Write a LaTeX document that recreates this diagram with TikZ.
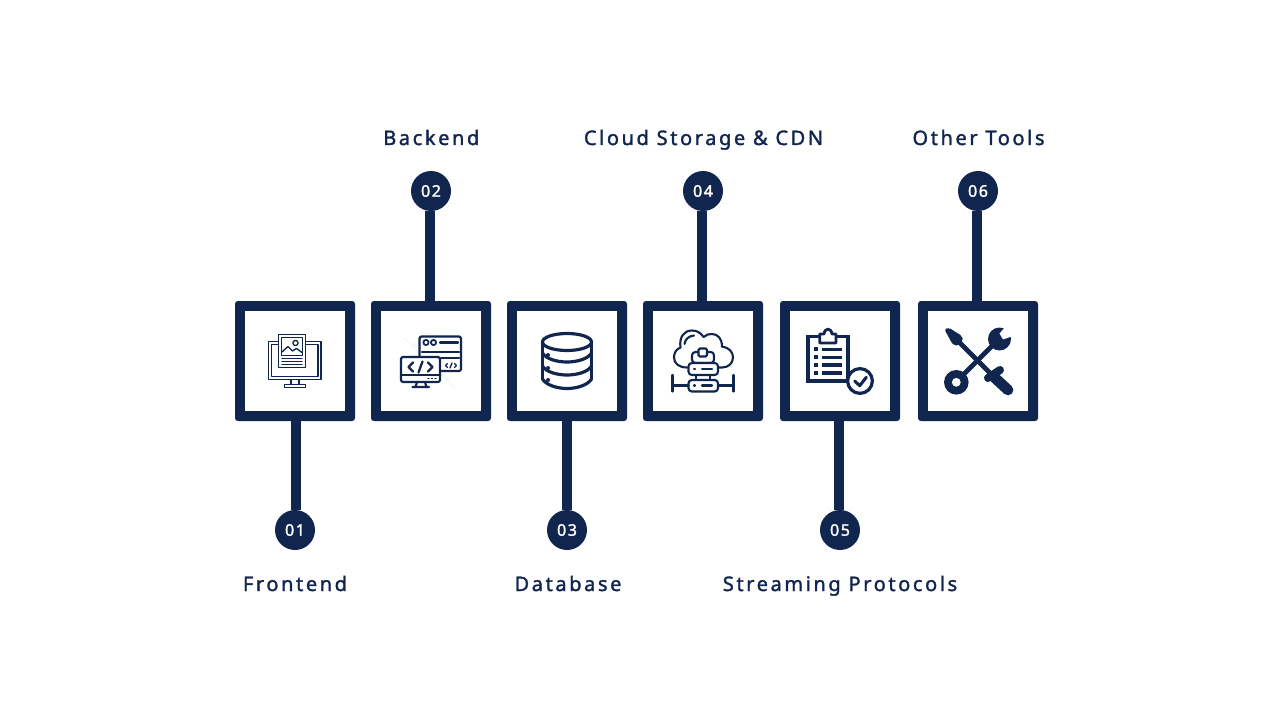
\documentclass[tikz,border=0pt]{standalone}
\usepackage{fontspec}
\usetikzlibrary{calc}
\newfontfamily\lab[LetterSpace=13,FakeBold=1.6]{Noto Sans}
\newfontfamily\num[LetterSpace=10,FakeBold=1.8]{Noto Sans}
\definecolor{navy}{HTML}{11264F}
\tikzset{
  x=.75pt,y=-.75pt,
  boxo/.style={fill=navy,draw=none,minimum size=90pt,inner sep=0pt,outer sep=0pt,rounded corners=2.2pt},
  boxi/.style={fill=white,draw=none,minimum size=75pt,inner sep=0pt,outer sep=0pt},
  bub/.style={circle,fill=navy,draw=none,minimum size=30pt,inner sep=0pt,outer sep=0pt,text=white,font=\num\fontsize{12}{14}\selectfont},
  lbl/.style={text=navy,inner sep=0pt,anchor=base,font=\lab\fontsize{15}{18}\selectfont},
  stem/.style={draw=navy,line width=7.5pt},
  ic/.style={draw=navy,line width=1pt,line cap=round,line join=round},
  icb/.style={draw=navy,line width=1.6pt,line cap=round,line join=round},
  ick/.style={draw=navy,line width=2.4pt,line cap=round,line join=round},
}
\begin{document}
\begin{tikzpicture}
\fill[white] (0,0) rectangle (1280,720);
\useasboundingbox (0,0) rectangle (1280,720);
\node[boxo] (b1) at (295,361) {};
\node[boxo] (b2) at (431,361) {};
\node[boxo] (b3) at (567,361) {};
\node[boxo] (b4) at (703,361) {};
\node[boxo] (b5) at (840,361) {};
\node[boxo] (b6) at (978,361) {};
\node[boxi] (i1) at (b1) {};
\node[boxi] (i2) at (b2) {};
\node[boxi] (i3) at (b3) {};
\node[boxi] (i4) at (b4) {};
\node[boxi] (i5) at (b5) {};
\node[boxi] (i6) at (b6) {};
\node[bub] (c1) at (295,530) {\raisebox{-.6pt}{01}};
\node[bub] (c2) at (431,191) {\raisebox{-.6pt}{02}};
\node[bub] (c3) at (567,530) {\raisebox{-.6pt}{03}};
\node[bub] (c4) at (703,191) {\raisebox{-.6pt}{04}};
\node[bub] (c5) at (840,530) {\raisebox{-.6pt}{05}};
\node[bub] (c6) at (978,191) {\raisebox{-.6pt}{06}};
\draw[stem] ([xshift=.75pt]b1.south) -- ([xshift=.75pt]c1.north);
\draw[stem] ([xshift=-.75pt]b2.north) -- ([xshift=-.75pt]c2.south);
\draw[stem] (b3.south) -- (c3.north);
\draw[stem] ([xshift=-.75pt]b4.north) -- ([xshift=-.75pt]c4.south);
\draw[stem] ([xshift=-.75pt]b5.south) -- ([xshift=-.75pt]c5.north);
\draw[stem] ([xshift=-.75pt]b6.north) -- ([xshift=-.75pt]c6.south);
\node[lbl] (l1) at (295,591) {Frontend};
\node[lbl] (l2) at (431.3,145) {Backend};
\node[lbl] (l3) at (568,591) {Database};
\node[lbl] (l4) at (703.5,145) {Cloud Storage \& CDN};
\node[lbl] (l5) at (840,591) {Streaming Protocols};
\node[lbl] (l6) at (978.5,145) {Other Tools};
% ---- icon 1
\draw[ic] (268.5,341.5) rectangle (321,379.5);
\draw[ic] (271.5,344.5) rectangle (318,376.5);
\draw[ic] (291,380) -- (291,384) (299,380) -- (299,384);
\draw[ic] (284.5,384.5) rectangle (305.5,387.5);
\draw[ic,fill=white] (278.5,334.5) rectangle (305.5,367.5);
\draw[ic] (281.5,337.5) rectangle (302.5,355.5);
\draw[ic] (295.5,343) circle (2.6);
\draw[ic] (282,352) -- (288,346.5) -- (292.5,351) -- (296.5,348.5) -- (302,352.5);
\draw[ic] (282,358.5) -- (302,358.5) (282,361.5) -- (302,361.5) (282,364.5) -- (302,364.5);
% ---- icon 2
\begin{scope}[draw=navy!7,line width=.4pt]
\draw (404,338) -- (455,388) (462,340) -- (420,332);
\draw (414,345) circle (1.6) (448,379) circle (1.6);
\end{scope}
\draw[icb,fill=white,rounded corners=1.5pt] (419.5,336.5) rectangle (461,371);
\draw[ic,line width=1.3pt] (426,342.5) circle (2.6) (433.5,342.5) circle (2.6);
\draw[icb] (440,342.5) -- (458,342.5) (422,352) -- (459,352) (441,358) -- (459,358);
\draw[ic] (447.5,363.5) -- (445.5,365.5) -- (447.5,367.5) (454.5,363.5) -- (456.5,365.5) -- (454.5,367.5) (452,363) -- (450,368);
\draw[icb,fill=white,rounded corners=1.5pt] (401,357) rectangle (440,382);
\draw[icb] (401,375) -- (440,375);
\draw[ic] (428,378.5) -- (429,378.5) (431.5,378.5) -- (432.5,378.5) (435,378.5) -- (436,378.5);
\draw[icb,line width=1.7pt] (413,362.5) -- (408.5,367) -- (413,371.5) (428,362.5) -- (432.5,367) -- (428,371.5) (422.5,361.5) -- (418.5,372.5);
\draw[icb] (417,382) -- (415.5,387) (425,382) -- (426.5,387) (412.5,387) -- (429,387);
% ---- icon 3
\draw[ick] (567,342) circle [x radius=24.5,y radius=8.5];
\draw[ick] (542.5,342) -- (542.5,379) (591.5,342) -- (591.5,379);
\draw[ick] (542.5,353) .. controls (546,359) and (557,362) .. (567,362) .. controls (577,362) and (588,359) .. (591.5,353);
\draw[ick] (542.5,366) .. controls (546,372) and (557,375) .. (567,375) .. controls (577,375) and (588,372) .. (591.5,366);
\draw[ick] (542.5,379) .. controls (546,385) and (557,388.5) .. (567,388.5) .. controls (577,388.5) and (588,385) .. (591.5,379);
\fill[navy] (548,355) circle (2) (548,368) circle (2) (548,380) circle (2);
% ---- icon 4
\draw[icb] (687,367.5) .. controls (679,367.5) and (674,363.5) .. (674,357.5)
 .. controls (674,352.5) and (676.5,349) .. (680.5,347.5)
 .. controls (679,337) and (684,330.5) .. (692,330.5)
 .. controls (697,330.5) and (701,333) .. (703.5,337)
 .. controls (706,334.5) and (709,334) .. (712,334)
 .. controls (718,334) and (722,339) .. (722,346.5)
 .. controls (729,347.5) and (733,352) .. (733,357.5)
 .. controls (733,363.5) and (728,367.5) .. (722,367.5) -- (718,367.5);
\draw[icb] (684.5,344) .. controls (685,339) and (689,336) .. (694,335.5);
\draw[icb,fill=white,rounded corners=2.5pt] (692,352) rectangle (714,363);
\draw[icb,fill=white,rounded corners=1pt] (698.5,348.5) rectangle (707,356.5);
\draw[icb,fill=white,rounded corners=2.5pt] (688.5,363) rectangle (718,375);
\draw[icb] (696,375) -- (696,380) (710,375) -- (710,380);
\draw[icb,fill=white,rounded corners=2.5pt] (688.5,380) rectangle (718,391.5);
\draw[icb] (694,369) -- (695,369) (702,369) -- (712,369) (694,385.5) -- (695,385.5) (702,385.5) -- (712,385.5);
\draw[icb] (672.5,375) -- (672.5,391.5) (733.5,375) -- (733.5,391.5) (672.5,385.5) -- (688.5,385.5) (718,385.5) -- (733.5,385.5);
% ---- icon 5
\draw[draw=navy,line width=2.3pt] (808,336.5) rectangle (848,381);
\draw[draw=navy,line width=2.1pt,fill=white,line join=round] (819.8,343) -- (819.8,334) -- (824,334) .. controls (825,327.5) and (831,327.5) .. (832,334) -- (836,334) -- (836,343) -- cycle;
\foreach \yy in {349.3,357.3,365,372.7}{
  \fill[navy] (814,\yy-1.9) rectangle (818,\yy+1.9);
  \fill[navy] (822.3,\yy-1.8) rectangle (842,\yy+1.8);
}
\draw[draw=navy,line width=2.4pt,fill=white] (860,381) circle (12.4);
\draw[draw=navy,line width=2.3pt,line cap=round,line join=round] (854.7,381) -- (859.7,385.7) -- (866.3,377.3);
% ---- icon 6
\draw[draw=navy,line width=3.6pt] (957,340) -- (995,378);
\fill[navy,rounded corners=1.5pt] (944.5,329.5) -- (948.5,327.5) -- (962,336) -- (963,340.5) -- (959,345.5) -- (953,345) -- cycle;
\draw[draw=navy,line width=6pt,line cap=round] (988,378) -- (1000,370);
\draw[draw=navy,line width=8pt,line cap=round] (995,378) -- (1008,390);
\draw[draw=navy,line width=3.6pt] (963,375) -- (993,345);
\fill[navy] (956.3,382.3) circle (12.3);
\fill[white] (956.3,382.3) circle (4.4);
\fill[navy] (999.5,339) circle (11.5);
\fill[white] (1006,326) -- (999.5,333.5) -- (1003,339.5) -- (1013,336) -- (1020,322) -- cycle;
\end{tikzpicture}
\end{document}
